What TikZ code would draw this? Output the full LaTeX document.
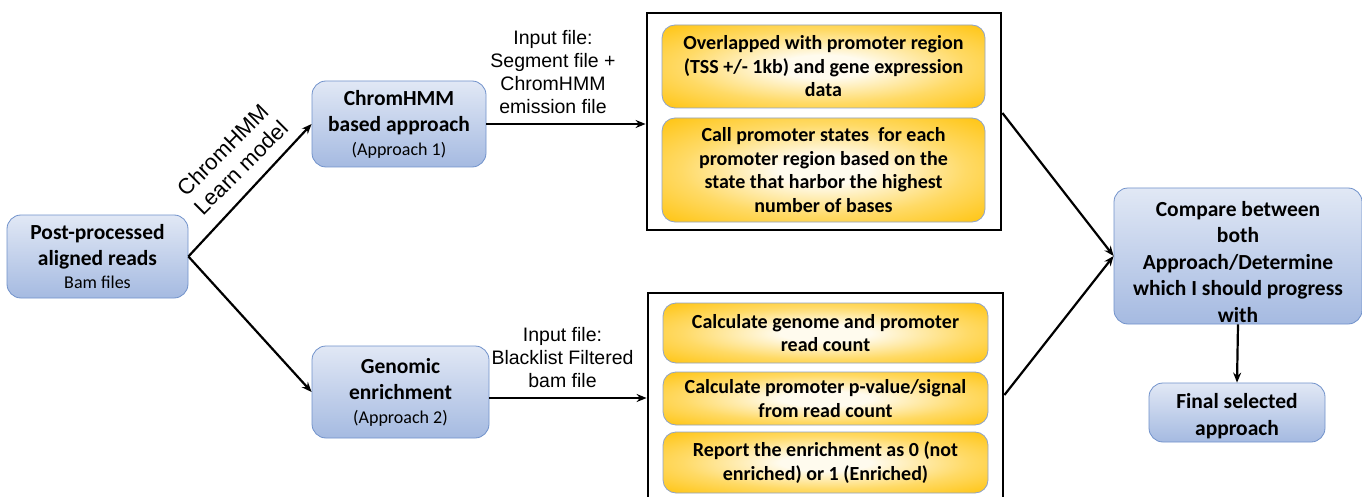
\documentclass[tikz,border=0pt]{standalone}
\usepackage{fontspec}
\setmainfont{Carlito}
\newfontfamily\arialf{Liberation Sans}
\usetikzlibrary{arrows.meta}
\definecolor{bluetop}{HTML}{E1E8F5}
\definecolor{bluebot}{HTML}{A5BAE1}
\definecolor{blueline}{HTML}{7192CB}
\definecolor{goldout}{HTML}{FFC000}
\definecolor{goldmid}{HTML}{FFDA66}
\definecolor{goldin}{HTML}{FFFBEE}
\definecolor{goldline}{HTML}{8FA3C8}
\pgfdeclareradialshading{goldrad}{\pgfpoint{0bp}{0bp}}{color(0bp)=(goldin); color(7bp)=(goldin); color(22bp)=(goldmid); color(38bp)=(goldout); color(75bp)=(goldout)}
\tikzset{
  bluebox/.style={rounded corners=14pt, draw=blueline, line width=0.8pt,
    top color=bluetop, bottom color=bluebot, align=center, inner sep=0pt,
    font=\fontsize{21.5}{26}\selectfont\bfseries},
  plaintext/.style={align=center, inner sep=0pt, font=\fontsize{21.5}{26.5}\selectfont\bfseries},
  goldbox/.style={rounded corners=13pt, draw=goldline, line width=0.8pt,
    shading=goldrad, align=center, inner sep=0pt,
    font=\fontsize{20}{23.5}\selectfont\bfseries},
  frame/.style={draw=black, line width=2.8pt, inner sep=0pt},
  conn/.style={line width=2.2pt, -{Stealth[length=10pt,width=8pt]}},
  lab/.style={align=center, font=\arialf\fontsize{19.5}{23}\selectfont, inner sep=0pt}
}
\begin{document}
\begin{tikzpicture}[x=1pt,y=-1pt]
\useasboundingbox (0,0) rectangle (1362,497);
\clip (0,0) rectangle (1362,497);
\fill[white] (0,0) rectangle (1362,497);

% main boxes
\node[bluebox, minimum width=181pt, minimum height=83pt] (post) at (97.5,256.5)
  {Post-processed\\aligned reads\\[-3pt]{\fontsize{18}{22}\selectfont\mdseries Bam files}};
\node[bluebox, minimum width=174pt, minimum height=86pt] (chrom) at (399,124)
  {ChromHMM\\based approach\\[-2pt]{\fontsize{18}{22}\selectfont\mdseries (Approach 1)}};
\node[bluebox, minimum width=177pt, minimum height=92pt] (geno) at (400.5,392)
  {Genomic\\enrichment\\[-2pt]{\fontsize{18}{22}\selectfont\mdseries (Approach 2)}};
\node[bluebox, minimum width=248pt, minimum height=136pt] (comp) at (1238,256) {};
\node[plaintext] (comptext) at (1238,262)
  {Compare between\\both\\Approach/Determine\\which I should progress\\with};
\node[bluebox, minimum width=176pt, minimum height=59pt] (final) at (1237,412.5) {};
\node[plaintext] (finaltext) at (1237,416) {Final selected\\approach};

% frames
\node[frame, minimum width=354pt, minimum height=217pt] (topframe) at (824,121.5) {};
\node[frame, minimum width=355pt, minimum height=212pt] (botframe) at (825.5,399) {};

% inner gold boxes
\node[goldbox, minimum width=323pt, minimum height=83pt] (t1) at (823.5,66.5)
  {Overlapped with promoter region\\(TSS +/- 1kb) and gene expression\\data};
\node[goldbox, minimum width=323pt, minimum height=104pt] (t2) at (823.5,170)
  {Call promoter states\ \ for each\\promoter region based on the\\state that harbor the highest\\number of bases};
\node[goldbox, minimum width=325pt, minimum height=60pt] (b1) at (825.5,333)
  {Calculate genome and promoter\\read count};
\node[goldbox, minimum width=325pt, minimum height=53pt] (b2) at (825.5,398.5)
  {Calculate promoter p-value/signal\\from read count};
\node[goldbox, minimum width=325pt, minimum height=61pt] (b3) at (825.5,462.5)
  {Report the enrichment as 0 (not\\enriched) or 1 (Enriched)};

% labels
\node[lab, rotate=45, font=\arialf\fontsize{22}{25}\selectfont] (learn) at (232,159) {ChromHMM\\Learn model};
\node[lab] (in1) at (553,72) {Input file:\\Segment file +\\ChromHMM\\emission file};
\node[lab] (in2) at (562.5,358) {Input file:\\Blacklist Filtered\\bam file};

% connectors
\draw[conn] (post.east) -- (chrom.west);
\draw[conn] (post.east) -- (geno.west);
\draw[conn] (chrom.east) -- (chrom.east -| topframe.west);
\draw[conn] ([yshift=-6pt]geno.east) -- ([yshift=-6pt]geno.east -| botframe.west);
\draw[conn] ([yshift=8.5pt]topframe.east) -- (comp.west);
\draw[conn] ([yshift=4pt]botframe.east) -- (comp.west);
\draw[conn] (comp.south) -- (final.north);
\end{tikzpicture}
\end{document}
